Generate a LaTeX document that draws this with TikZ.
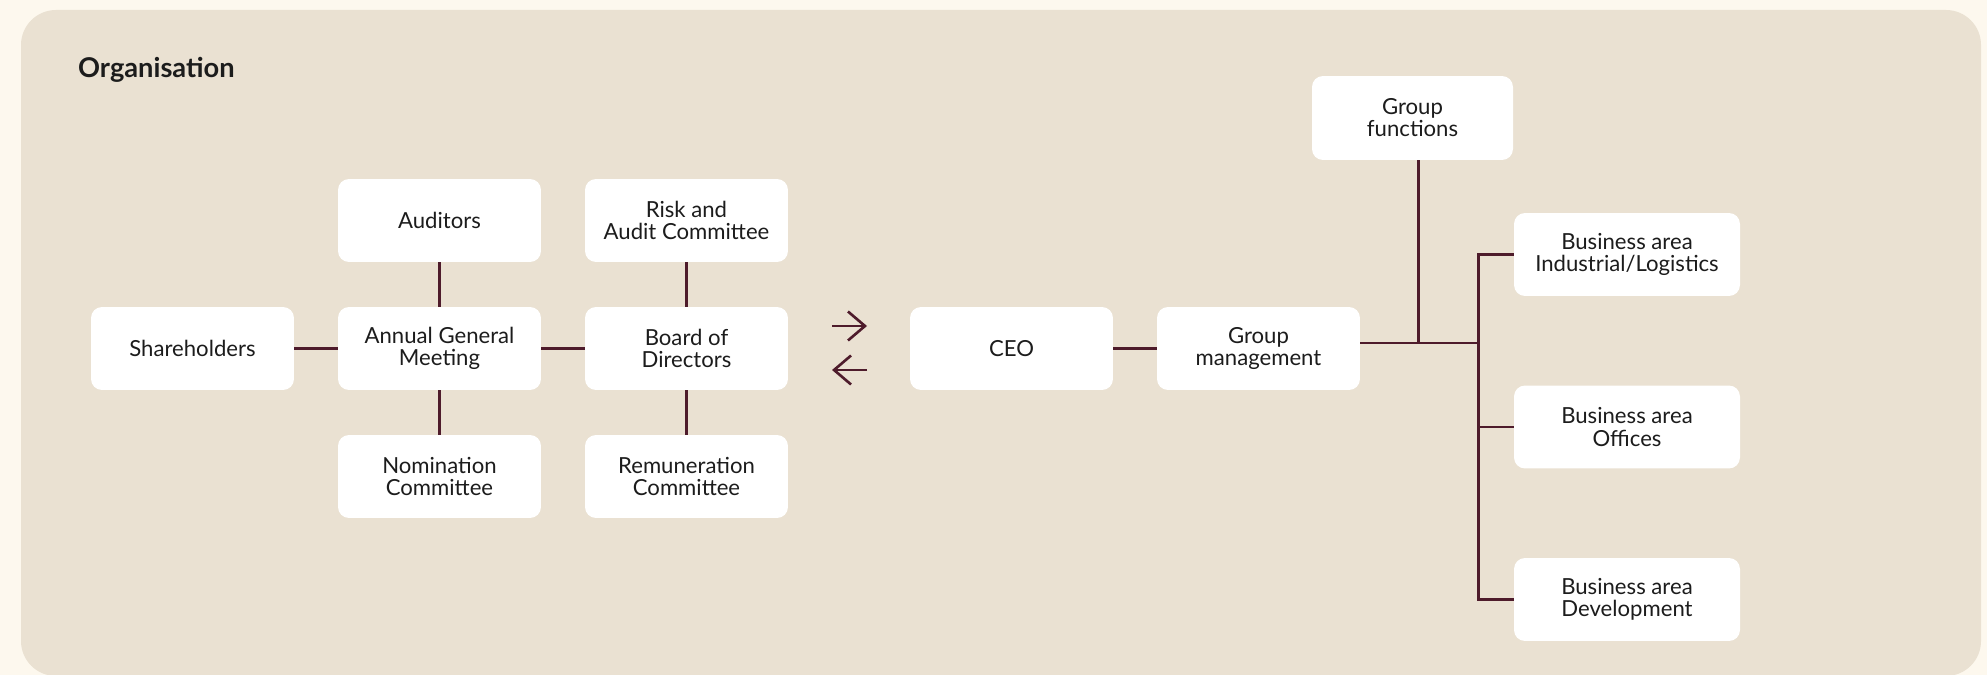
\documentclass[tikz,border=0pt]{standalone}
\usepackage{fontspec}
\setmainfont{Lato}
\usetikzlibrary{arrows.meta}
\definecolor{cream}{HTML}{FDF8EE}
\definecolor{sand}{HTML}{EAE1D2}
\definecolor{wine}{HTML}{4E1B2B}
\definecolor{ink}{HTML}{1C1C1C}
\tikzset{
	orgbox/.style={fill=white, rounded corners=0.22cm, minimum width=4.06cm, minimum height=1.66cm, align=center, text=ink, font=\fontsize{12.6}{12.6}\selectfont, inner sep=0pt},
	areabox/.style={orgbox, minimum width=4.52cm},
	link/.style={draw=wine, line width=1.7pt},
}
\begin{document}
\begin{tikzpicture}[x=0.02cm, y=-0.02cm]
			%%%%% START %%%%%
			
			\useasboundingbox (0, 0) rectangle (1987, 675);
			\fill[cream] (0, 0) rectangle (1987, 675);
			\fill[sand, rounded corners=0.7cm] (21, 10) rectangle (1981, 676);
			
			\node[anchor=west, text=ink, font=\bfseries\fontsize{15.5}{17}\selectfont] (title) at (72, 70) {Organisation};
			
			% owners and board
			\node[orgbox] (share) at (192.5, 348.5) {Shareholders};
			\node[orgbox] (agm) at (439.5, 348.5) {Annual General\\Meeting};
			\node[orgbox] (audit) at (439.5, 220.5) {Auditors};
			\node[orgbox] (nomin) at (439.5, 476.5) {Nomination\\Committee};
			\node[orgbox] (board) at (686.5, 348.5) {Board of\\Directors};
			\node[orgbox] (risk) at (686.5, 220.5) {Risk and\\Audit Committee};
			\node[orgbox] (remun) at (686.5, 476.5) {Remuneration\\Committee};
			
			\draw[link] (share) -- (agm);
			\draw[link] (agm) -- (audit);
			\draw[link] (agm) -- (nomin);
			\draw[link] (agm) -- (board);
			\draw[link] (board) -- (risk);
			\draw[link] (board) -- (remun);
			
			% two way arrows
			\coordinate (fwdA) at (832, 326);
			\coordinate (fwdB) at (867, 326);
			\coordinate (backA) at (867, 370);
			\coordinate (backB) at (832, 370);
			\draw[link, line width=1.5pt, -{Straight Barb[length=0.34cm, width=0.58cm]}] (fwdA) -- (fwdB);
			\draw[link, line width=1.5pt, -{Straight Barb[length=0.34cm, width=0.58cm]}] (backA) -- (backB);
			
			% management
			\node[orgbox] (ceo) at (1011.5, 348.5) {CEO};
			\node[orgbox] (gm) at (1258.5, 348.5) {Group\\management};
			\node[orgbox, minimum width=4.02cm, minimum height=1.68cm] (gf) at (1412.5, 118) {Group\\functions};
			\node[areabox] (bi) at (1627, 254.5) {Business area\\Industrial/Logistics};
			\node[areabox] (bo) at (1627, 427) {Business area\\Offices};
			\node[areabox] (bd) at (1627, 599.5) {Business area\\Development};
			
			\coordinate (hub) at (1478, 343);
			\coordinate (gfdrop) at (1418, 343);
			
			\draw[link] (ceo) -- (gm);
			\draw[link] (gm.east |- hub) -- (hub);
			\draw[link] (gfdrop |- gf.south) -- (gfdrop);
			\draw[link] (bi.west) -- (hub |- bi.west) -- (hub |- bd.west) -- (bd.west);
			\draw[link] (hub |- bo.west) -- (bo.west);
			
			%%%%% END %%%%%
\end{tikzpicture}
\end{document}
